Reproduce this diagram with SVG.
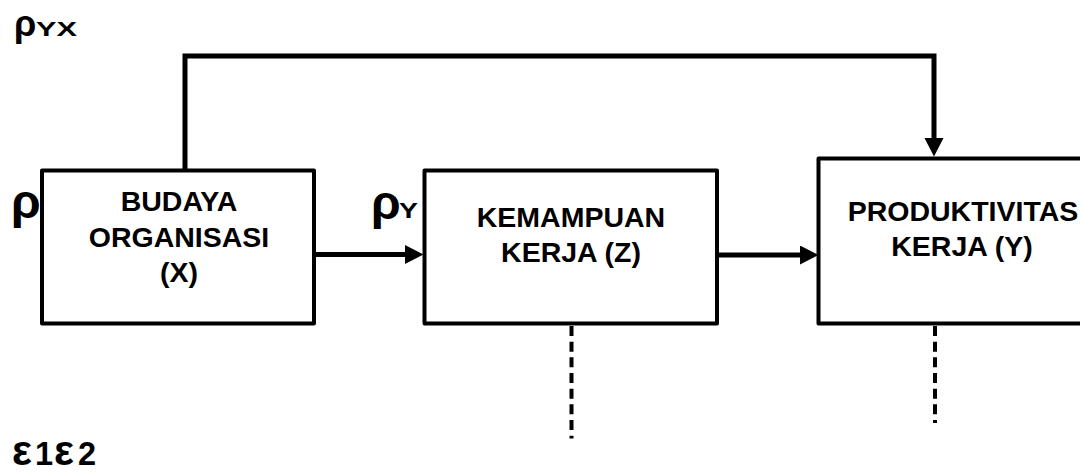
<svg xmlns="http://www.w3.org/2000/svg" width="1080" height="472" viewBox="0 0 1080 472">
<style>
.box{fill:#fff;stroke:#000;stroke-width:4;stroke-linejoin:round}
.lbl{font-family:"Liberation Sans",Arial,sans-serif;font-weight:bold;font-size:28.5px;fill:#000;text-anchor:middle}
.sym{font-family:"Liberation Sans",Arial,sans-serif;font-weight:bold;fill:#000}
.con{fill:none;stroke:#000;stroke-width:5}
.dash{fill:none;stroke:#000;stroke-width:4;stroke-dasharray:10 5.67}
</style>
<defs>
<marker id="ah" markerUnits="userSpaceOnUse" markerWidth="20" markerHeight="20" refX="8" refY="9.5" orient="auto">
<path d="M0,0 L18.5,9.5 L0,19 Z" fill="#000"/>
</marker>
</defs>
<rect width="1080" height="472" fill="#fff"/>
<g id="labels">
<text class="sym" x="14" y="36"><tspan font-size="36">ρ</tspan><tspan font-size="20.5" x="36" textLength="41" lengthAdjust="spacingAndGlyphs">YX</tspan></text>
<text class="sym" x="11" y="218" font-size="48">ρ</text>
<text class="sym" x="371" y="219"><tspan font-size="48">ρ</tspan><tspan font-size="22.5" x="399" y="218" textLength="19" lengthAdjust="spacingAndGlyphs">Y</tspan></text>
<text class="sym" y="464.5"><tspan x="12" font-size="42">ε</tspan><tspan x="35" font-size="32.5">1</tspan><tspan x="54" font-size="42">ε</tspan><tspan x="78" font-size="32.5">2</tspan></text>
</g>
<g id="connectors">
<path class="con" d="M185,170 V56 H934 V146" marker-end="url(#ah)"/>
<path class="con" d="M314,254.5 H413" marker-end="url(#ah)"/>
<path class="con" d="M717,255 H808" marker-end="url(#ah)"/>
<path class="dash" d="M571.5,326 V438.5"/>
<path class="dash" d="M935,326 V423"/>
</g>
<g id="node-x">
<rect class="box" x="42" y="170.5" width="272" height="153"/>
<text class="lbl" x="179" y="211">BUDAYA</text>
<text class="lbl" x="179" y="246.5">ORGANISASI</text>
<text class="lbl" x="179" y="282">(X)</text>
</g>
<g id="node-z">
<rect class="box" x="424.5" y="170.5" width="292.5" height="153"/>
<text class="lbl" x="571" y="226.5">KEMAMPUAN</text>
<text class="lbl" x="571" y="262">KERJA (Z)</text>
</g>
<g id="node-y">
<rect class="box" x="818.5" y="158.5" width="300" height="165"/>
<text class="lbl" x="963" y="220.5">PRODUKTIVITAS</text>
<text class="lbl" x="962" y="256">KERJA (Y)</text>
</g>
</svg>
